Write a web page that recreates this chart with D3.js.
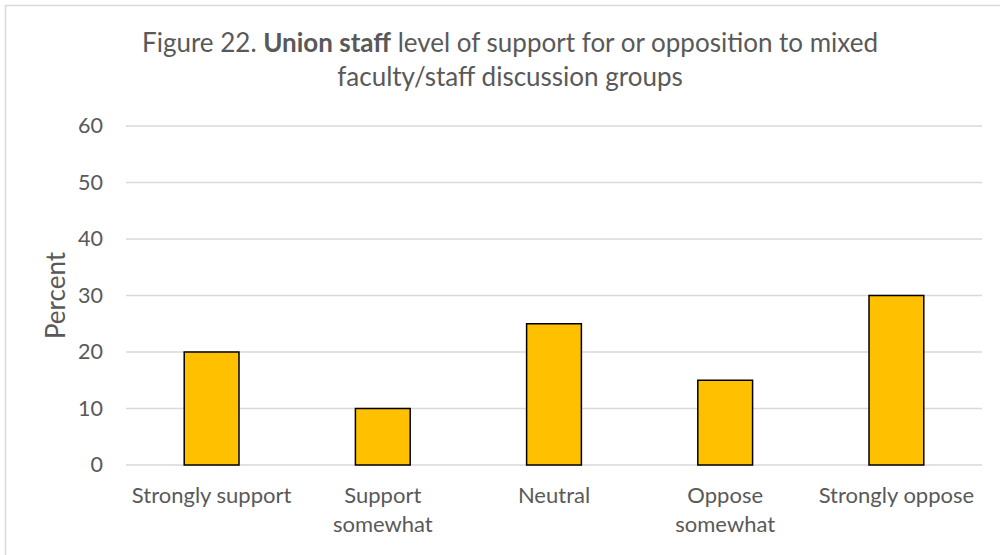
<!DOCTYPE html>
<html>
<head>
<meta charset="utf-8">
<script src="https://cdn.jsdelivr.net/npm/d3@7"></script>
<style>
  html, body { margin: 0; padding: 0; background: #fff; }
  svg { display: block; font-family: Lato, "Open Sans", sans-serif; }
</style>
</head>
<body>
<svg id="chart" width="1000" height="555"></svg>
<script>
// Survey responses (percent of union staff)
const categories = ["Strongly support", "Support somewhat", "Neutral", "Oppose somewhat", "Strongly oppose"];
const categoryLines = [["Strongly support"], ["Support", "somewhat"], ["Neutral"], ["Oppose", "somewhat"], ["Strongly oppose"]];
const percents = [20, 10, 25, 15, 30];
const yTicks = [0, 10, 20, 30, 40, 50, 60];

const svg = d3.select("#chart");
const W = 1000, H = 555;
const plot = { left: 126, right: 982, top: 126, bottom: 465 };
const textColor = "#595959";

// chart frame
svg.append("rect")
  .attr("x", 5.5).attr("y", 5.5)
  .attr("width", W + 20).attr("height", H + 20)
  .attr("fill", "#fff").attr("stroke", "#d9d9d9").attr("stroke-width", 1.5);

// title
const title = svg.append("text")
  .attr("text-anchor", "middle")
  .attr("fill", textColor)
  .attr("font-size", 26);
const line1 = title.append("tspan").attr("x", 510).attr("y", 52);
line1.append("tspan").text("Figure 22. ");
line1.append("tspan").attr("font-weight", "bold").text("Union staff");
line1.append("tspan").text(" level of support for or opposition to mixed");
title.append("tspan").attr("x", 510).attr("y", 86).text("faculty/staff discussion groups");

const x = d3.scaleBand()
  .domain(categories)
  .range([plot.left, plot.right])
  .paddingInner(0.68)
  .paddingOuter(0.34);

const y = d3.scaleLinear()
  .domain([0, 60])
  .range([plot.bottom, plot.top]);

// gridlines
svg.append("g")
  .selectAll("line")
  .data(yTicks)
  .join("line")
  .attr("x1", plot.left).attr("x2", plot.right)
  .attr("y1", d => y(d)).attr("y2", d => y(d))
  .attr("stroke", "#d9d9d9").attr("stroke-width", 1.3);

// y axis labels
const yAxis = svg.append("g")
  .attr("transform", `translate(${plot.left},0)`)
  .call(d3.axisLeft(y).tickValues(yTicks).tickSize(0).tickPadding(23));
yAxis.select(".domain").remove();
yAxis.selectAll("text")
  .attr("fill", textColor)
  .attr("font-size", 21.5)
  .attr("font-family", "Lato, sans-serif");

// bars
svg.append("g")
  .selectAll("rect")
  .data(percents)
  .join("rect")
  .attr("x", (d, i) => x(categories[i]))
  .attr("y", d => y(d))
  .attr("width", x.bandwidth())
  .attr("height", d => y(0) - y(d))
  .attr("fill", "#ffc000")
  .attr("stroke", "#000")
  .attr("stroke-width", 1.5);

// category labels
const cat = svg.append("g")
  .selectAll("text")
  .data(categories)
  .join("text")
  .attr("text-anchor", "middle")
  .attr("fill", textColor)
  .attr("font-size", 22)
  .attr("transform", d => `translate(${x(d) + x.bandwidth() / 2},0)`);
cat.selectAll("tspan")
  .data((d, i) => categoryLines[i])
  .join("tspan")
  .attr("x", 0)
  .attr("y", (d, j) => 503 + j * 29)
  .text(d => d);

// y axis title
svg.append("text")
  .attr("transform", `translate(65,${(plot.top + plot.bottom) / 2}) rotate(-90)`)
  .attr("text-anchor", "middle")
  .attr("fill", textColor)
  .attr("font-size", 26)
  .text("Percent");
</script>
</body>
</html>
